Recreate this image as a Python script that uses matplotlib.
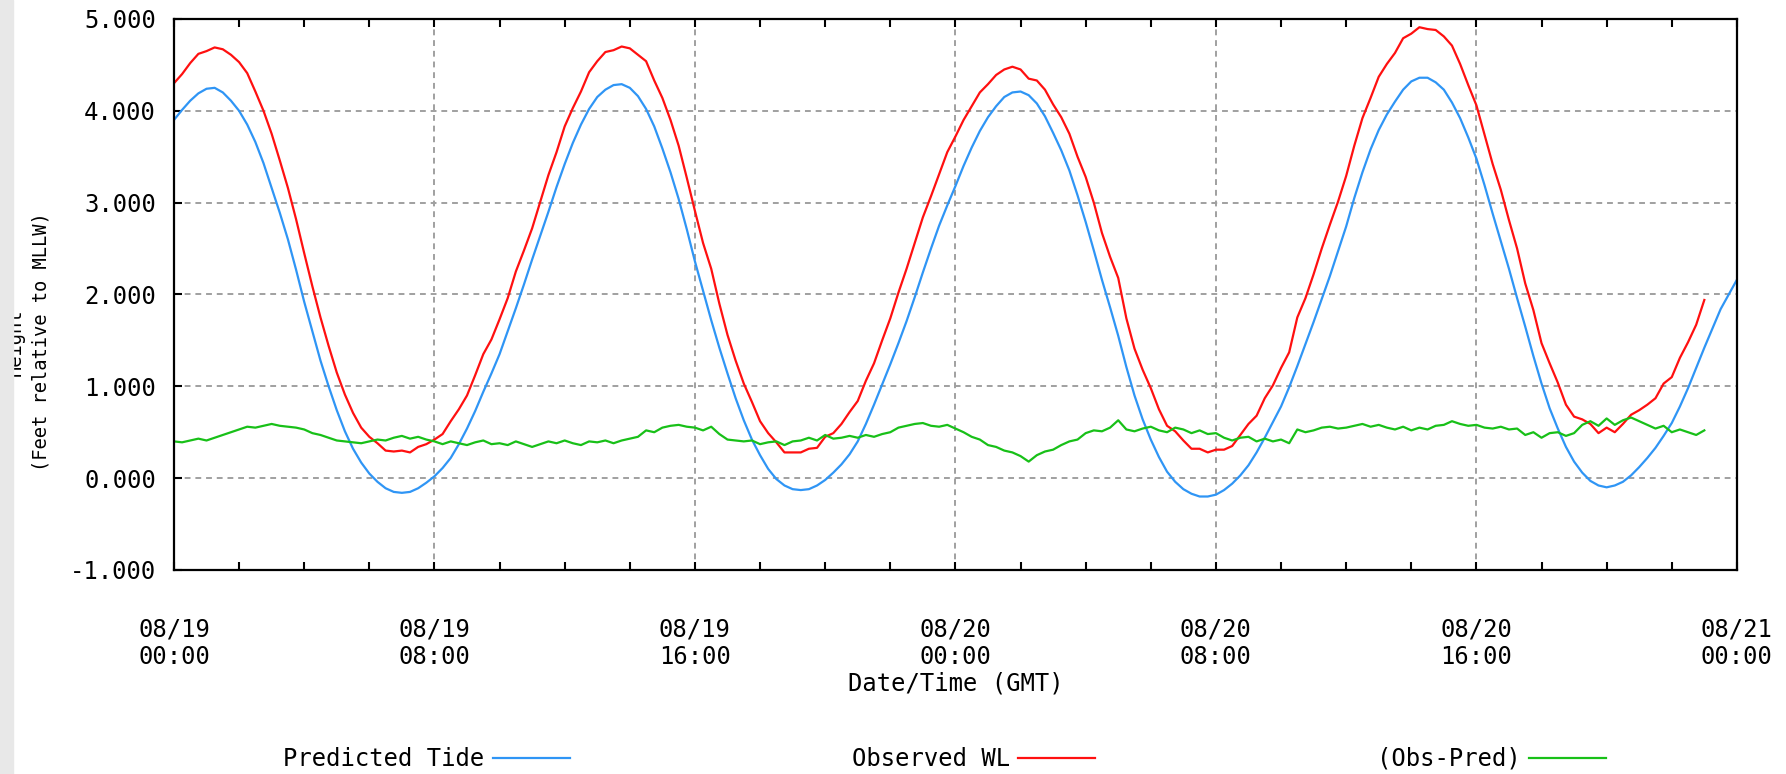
import numpy as np
import pandas as pd
import matplotlib
matplotlib.use("Agg")
import matplotlib.pyplot as plt
import matplotlib.dates as mdates
from matplotlib.ticker import FormatStrFormatter, MultipleLocator
from matplotlib.patches import Rectangle

plt.rcParams['font.family'] = 'DejaVu Sans Mono'
plt.rcParams['axes.unicode_minus'] = False

# Predicted tide, feet relative to MLLW, every 15 min from 08/19 00:00 (8 values = 2 h per row)
predicted = [
    3.90, 4.01, 4.11, 4.19, 4.24, 4.25, 4.20, 4.11,
    4.00, 3.85, 3.66, 3.43, 3.16, 2.89, 2.60, 2.27,
    1.92, 1.60, 1.28, 1.00, 0.74, 0.51, 0.32, 0.17,
    0.05, -0.04, -0.11, -0.15, -0.16, -0.15, -0.11, -0.05,
    0.02, 0.11, 0.22, 0.37, 0.54, 0.73, 0.94, 1.14,
    1.35, 1.60, 1.85, 2.11, 2.38, 2.64, 2.90, 3.17,
    3.42, 3.65, 3.85, 4.02, 4.15, 4.23, 4.28, 4.29,
    4.25, 4.16, 4.02, 3.83, 3.59, 3.33, 3.04, 2.71,
    2.36, 2.04, 1.72, 1.42, 1.14, 0.87, 0.63, 0.42,
    0.25, 0.10, -0.01, -0.08, -0.12, -0.13, -0.12, -0.08,
    -0.02, 0.06, 0.15, 0.26, 0.40, 0.59, 0.80, 1.02,
    1.24, 1.47, 1.71, 1.97, 2.24, 2.50, 2.75, 2.97,
    3.18, 3.40, 3.60, 3.78, 3.93, 4.05, 4.15, 4.20,
    4.21, 4.17, 4.08, 3.94, 3.76, 3.57, 3.35, 3.08,
    2.79, 2.48, 2.16, 1.86, 1.55, 1.21, 0.90, 0.64,
    0.42, 0.23, 0.07, -0.04, -0.12, -0.17, -0.20, -0.20,
    -0.18, -0.13, -0.06, 0.03, 0.14, 0.28, 0.44, 0.61,
    0.78, 0.99, 1.22, 1.46, 1.70, 1.95, 2.20, 2.47,
    2.74, 3.05, 3.33, 3.58, 3.79, 3.96, 4.10, 4.23,
    4.32, 4.36, 4.36, 4.31, 4.23, 4.09, 3.92, 3.71,
    3.48, 3.19, 2.88, 2.58, 2.28, 1.96, 1.65, 1.33,
    1.03, 0.76, 0.54, 0.34, 0.18, 0.06, -0.03, -0.08,
    -0.10, -0.08, -0.04, 0.03, 0.12, 0.22, 0.33, 0.46,
    0.60, 0.78, 0.98, 1.20, 1.42, 1.63, 1.84, 2.00,
    2.16,
]

# Observed minus predicted, every 15 min (data stops at 08/20 23:00)
residual = [
    0.40, 0.39, 0.41, 0.43, 0.41, 0.44, 0.47, 0.50,
    0.53, 0.56, 0.55, 0.57, 0.59, 0.57, 0.56, 0.55,
    0.53, 0.49, 0.47, 0.44, 0.41, 0.40, 0.39, 0.38,
    0.40, 0.42, 0.41, 0.44, 0.46, 0.43, 0.45, 0.42,
    0.40, 0.37, 0.40, 0.38, 0.36, 0.39, 0.41, 0.37,
    0.38, 0.36, 0.40, 0.37, 0.34, 0.37, 0.40, 0.38,
    0.41, 0.38, 0.36, 0.40, 0.39, 0.41, 0.38, 0.41,
    0.43, 0.45, 0.52, 0.50, 0.55, 0.57, 0.58, 0.56,
    0.55, 0.52, 0.56, 0.48, 0.42, 0.41, 0.40, 0.41,
    0.37, 0.39, 0.40, 0.36, 0.40, 0.41, 0.44, 0.41,
    0.47, 0.43, 0.44, 0.46, 0.44, 0.47, 0.45, 0.48,
    0.50, 0.55, 0.57, 0.59, 0.60, 0.57, 0.56, 0.58,
    0.54, 0.50, 0.45, 0.42, 0.36, 0.34, 0.30, 0.28,
    0.24, 0.18, 0.25, 0.29, 0.31, 0.36, 0.40, 0.42,
    0.49, 0.52, 0.51, 0.55, 0.63, 0.53, 0.51, 0.54,
    0.56, 0.52, 0.50, 0.55, 0.53, 0.49, 0.52, 0.48,
    0.49, 0.44, 0.41, 0.44, 0.45, 0.40, 0.43, 0.40,
    0.42, 0.38, 0.53, 0.50, 0.52, 0.55, 0.56, 0.54,
    0.55, 0.57, 0.59, 0.56, 0.58, 0.55, 0.53, 0.56,
    0.52, 0.55, 0.53, 0.57, 0.58, 0.62, 0.59, 0.57,
    0.58, 0.55, 0.54, 0.56, 0.53, 0.54, 0.47, 0.50,
    0.44, 0.49, 0.50, 0.46, 0.49, 0.58, 0.62, 0.57,
    0.65, 0.58, 0.63, 0.66, 0.62, 0.58, 0.54, 0.57,
    0.50, 0.53, 0.50, 0.47, 0.52,
]

t_pred = pd.date_range('2013-08-19 00:00', periods=len(predicted), freq='15min')
t_obs = t_pred[:len(residual)]
observed = np.array(predicted[:len(residual)]) + np.array(residual)

fig = plt.figure(figsize=(17.86, 7.74), dpi=100)
ax = fig.add_axes([0.0974, 0.2636, 0.8751, 0.7119])

ax.plot(t_pred, predicted, color='#2f95f5', lw=1.6, label='Predicted Tide')
ax.plot(t_obs, observed, color='#ff1010', lw=1.6, label='Observed WL')
ax.plot(t_obs, residual, color='#18c018', lw=1.6, label='(Obs-Pred)')

ax.set_xlim(pd.Timestamp('2013-08-19 00:00'), pd.Timestamp('2013-08-21 00:00'))
ax.set_ylim(-1, 5)
ax.yaxis.set_major_locator(MultipleLocator(1))
ax.yaxis.set_major_formatter(FormatStrFormatter('%.3f'))
ax.xaxis.set_major_locator(mdates.HourLocator(byhour=[0, 8, 16]))
ax.xaxis.set_minor_locator(mdates.HourLocator(interval=2))
ax.xaxis.set_major_formatter(mdates.DateFormatter('%m/%d\n%H:%M'))

ax.grid(True, which='major', color='#a0a0a0', linestyle=(0, (3, 2.5)), linewidth=1.4)
ax.tick_params(axis='x', which='both', direction='in', top=True, length=6, width=1.5,
               pad=34, labelsize=17.2)
ax.tick_params(axis='y', which='both', direction='in', right=False, length=6, width=1.5,
               pad=13, labelsize=17.2)
for s in ax.spines.values():
    s.set_linewidth(1.6)

ax.set_xlabel('Date/Time (GMT)', fontsize=17.2)
ax.xaxis.set_label_coords(0.5, -0.184)
ax.set_ylabel('Height\n(Feet relative to MLLW)', fontsize=13.5, linespacing=1.46)
ax.yaxis.set_label_coords(-0.079, 0.414)

ax.legend(loc='center', bbox_to_anchor=(0.493, -0.343), ncol=3, markerfirst=False,
          frameon=False, fontsize=17.2, handlelength=3.2, handletextpad=0.37,
          columnspacing=11.8)

# grey border panel on the left edge (it hides most of the first label line)
fig.add_artist(Rectangle((0, 0), 13 / 1786, 1, transform=fig.transFigure,
                         color='#e8e8e8', zorder=10))

fig.savefig('out.png', dpi=100)
